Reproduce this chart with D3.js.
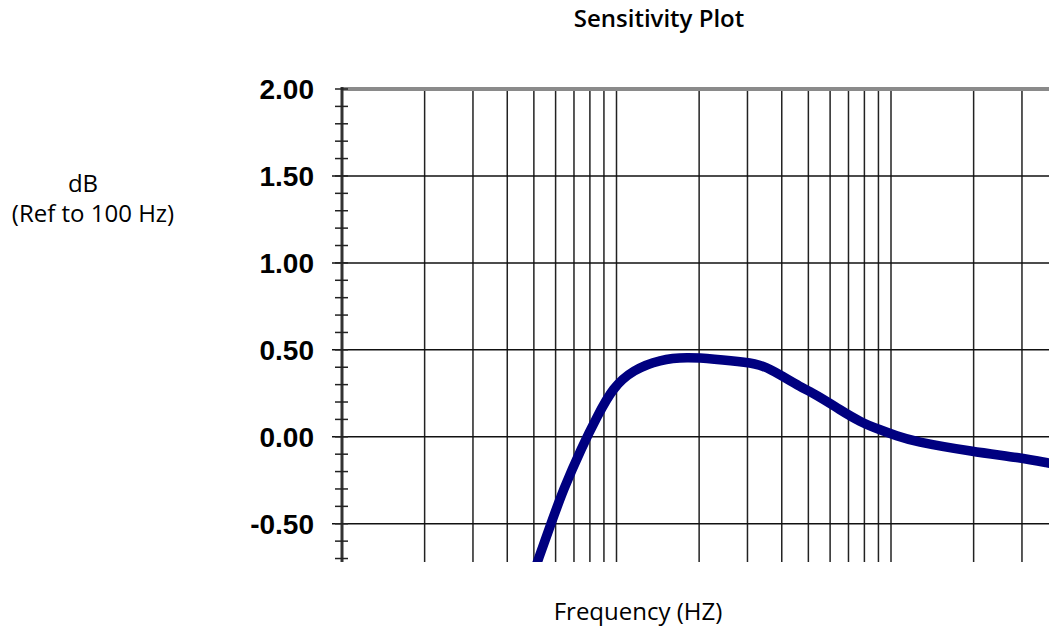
<!DOCTYPE html>
<html>
<head>
<meta charset="utf-8">
<script src="https://cdn.jsdelivr.net/npm/d3@7"></script>
<style>
  body { margin: 0; background: #fff; }
  svg { display: block; }
</style>
</head>
<body>
<svg id="chart"></svg>
<script>
// courbe de sensibilité
const freqs = [4.9, 5.18, 5.72, 6.39, 7.49, 8.49, 9.71, 11.5, 14.4, 18.1, 22.5, 29.9, 34.2, 39.4, 46.6, 53.7, 65.2, 77.1, 91.2, 105, 120, 199, 295, 373, 430];
const dbValues = [-0.82, -0.707, -0.517, -0.305, -0.057, 0.115, 0.285, 0.385, 0.445, 0.458, 0.448, 0.428, 0.41, 0.357, 0.288, 0.24, 0.155, 0.086, 0.04, 0.005, -0.025, -0.086, -0.12, -0.15, -0.168];

const yMajor = [-0.5, 0, 0.5, 1.0, 1.5, 2.0];
const yMinor = d3.range(-7, 21).map(d => d / 10);

var width = 1049, height = 632;
var plot = {left: 342, top: 89, bottom: 562, decade: 274.5};

const svg = d3.select("#chart")
  .attr("width", width)
  .attr("height", height);

const x = d3.scaleLog()
  .domain([1, 1000])
  .range([plot.left, plot.left + 3 * plot.decade]);

const y = d3.scaleLinear()
  .domain([-0.72, 2.0])
  .range([plot.bottom, plot.top]);

svg.append("defs").append("clipPath")
  .attr("id", "zone")
  .append("rect")
  .attr("x", plot.left)
  .attr("y", plot.top)
  .attr("width", width - plot.left)
  .attr("height", plot.bottom - plot.top);

// grille verticale (log)
svg.append("g")
  .selectAll("line")
  .data(x.ticks().filter(d => d > 1))
  .enter().append("line")
  .attr("x1", d => x(d))
  .attr("x2", d => x(d))
  .attr("y1", plot.top)
  .attr("y2", plot.bottom)
  .attr("stroke", "#222")
  .attr("stroke-width", 1.5);

// grille horizontale
svg.append("g")
  .selectAll("line")
  .data(yMajor.filter(d => d < 2))
  .enter().append("line")
  .attr("x1", plot.left - 10)
  .attr("x2", x.range()[1])
  .attr("y1", d => y(d))
  .attr("y2", d => y(d))
  .attr("stroke", "#111")
  .attr("stroke-width", 1.5);

// bord du haut en gris
svg.append("line")
  .attr("x1", plot.left)
  .attr("x2", x.range()[1])
  .attr("y1", y(2))
  .attr("y2", y(2))
  .attr("stroke", "#8a8a8a")
  .attr("stroke-width", 4);

// axe y avec petites graduations
const yAxis = svg.append("g");
yAxis.append("line")
  .attr("x1", plot.left)
  .attr("x2", plot.left)
  .attr("y1", plot.top - 2)
  .attr("y2", plot.bottom)
  .attr("stroke", "#333")
  .attr("stroke-width", 3);

yAxis.selectAll(".minor")
  .data(yMinor)
  .enter().append("line")
  .attr("class", "minor")
  .attr("x1", plot.left - 7)
  .attr("x2", plot.left + 6)
  .attr("y1", d => y(d))
  .attr("y2", d => y(d))
  .attr("stroke", "#222")
  .attr("stroke-width", 1.5);

yAxis.selectAll("text")
  .data(yMajor)
  .enter().append("text")
  .attr("x", plot.left - 28)
  .attr("y", d => y(d))
  .attr("dy", "0.36em")
  .attr("text-anchor", "end")
  .style("font-family", "'Liberation Sans', Arial, sans-serif")
  .style("font-weight", "bold")
  .style("font-size", "28px")
  .text(d => d3.format(".2f")(d).replace("\u2212", "-"));

// courbe
const line = d3.line()
  .x((d, i) => x(freqs[i]))
  .y(d => y(d))
  .curve(d3.curveBasis);

svg.append("path")
  .datum(dbValues)
  .attr("clip-path", "url(#zone)")
  .attr("d", line)
  .attr("fill", "none")
  .attr("stroke", "#000080")
  .attr("stroke-width", 9.5)
  .attr("stroke-linejoin", "round");

// textes
const labelFont = "'Open Sans', 'Noto Sans', sans-serif";

svg.append("text")
  .attr("x", 659).attr("y", 27)
  .attr("text-anchor", "middle")
  .style("font-family", labelFont)
  .style("font-weight", 600)
  .style("font-size", "24px")
  .text("Sensitivity Plot");

svg.append("text")
  .attr("x", 83).attr("y", 192)
  .attr("text-anchor", "middle")
  .style("font-family", labelFont)
  .style("font-size", "24px")
  .text("dB");

svg.append("text")
  .attr("x", 93).attr("y", 222)
  .attr("text-anchor", "middle")
  .style("font-family", labelFont)
  .style("font-size", "24px")
  .text("(Ref to 100 Hz)");

svg.append("text")
  .attr("x", 638).attr("y", 620)
  .attr("text-anchor", "middle")
  .style("font-family", labelFont)
  .style("font-size", "24px")
  .text("Frequency (HZ)");
</script>
</body>
</html>
